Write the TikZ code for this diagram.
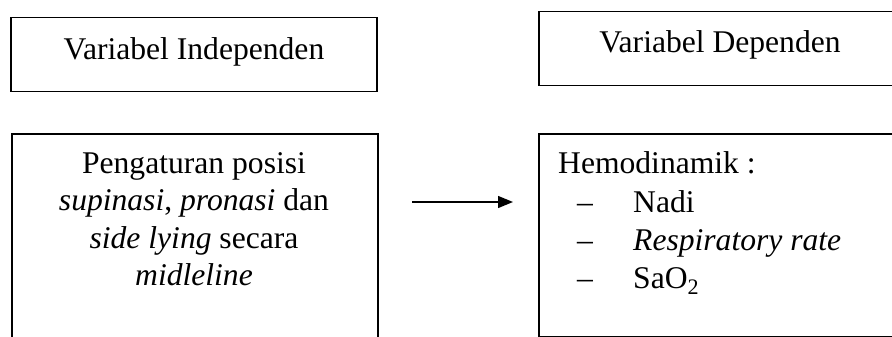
\documentclass[tikz,border=0pt]{standalone}
\usepackage{fontspec}
\setmainfont{Liberation Serif}
\usetikzlibrary{arrows.meta}
\tikzset{
  box/.style={draw, line width=1.5pt, inner sep=0pt},
  txt/.style={inner sep=0pt, font=\fontsize{31.6}{37.5}\selectfont},
  conn/.style={line width=1.3pt, -{Triangle[length=15pt,width=12pt]}}
}
\begin{document}
\begin{tikzpicture}[x=1pt,y=-1pt]
\useasboundingbox (0,0) rectangle (892,337);
\fill[white] (0,0) rectangle (892,337);
\clip (0,0) rectangle (892,337);
% boxes
\node[box, minimum width=366pt, minimum height=74pt, anchor=north west] (indep) at (10,17) {};
\node[box, minimum width=366pt, minimum height=220pt, anchor=north west] (posisi) at (11,133) {};
\node[box, minimum width=370pt, minimum height=74pt, anchor=north west] (dep) at (538,11) {};
\node[box, minimum width=370pt, minimum height=203pt, anchor=north west] (hemo) at (538,133) {};
% headings
\node[txt, anchor=base] (tindep) at (194,60) {Variabel Independen};
\node[txt, anchor=base] (tdep) at (720,53) {Variabel Dependen};
% left box text
\node[txt, anchor=base] (l1) at (194,173) {Pengaturan posisi};
\node[txt, anchor=base] (l2) at (194,210.5) {\textit{supinasi}, \textit{pronasi} dan};
\node[txt, anchor=base] (l3) at (194,248) {\textit{side lying} secara};
\node[txt, anchor=base] (l4) at (194,285.5) {\textit{midleline}};
% right box text
\node[txt, anchor=base west] (r0) at (558,173) {Hemodinamik :};
\node[txt, anchor=base west] (d1) at (577,212) {–};
\node[txt, anchor=base west] (d2) at (577,250) {–};
\node[txt, anchor=base west] (d3) at (577,288) {–};
\node[txt, anchor=base west] (r1) at (633,212) {Nadi};
\node[txt, anchor=base west] (r2) at (633,250) {\textit{Respiratory rate}};
\node[txt, anchor=base west] (r3) at (633,288) {SaO\textsubscript{2}};
% arrow
\coordinate (a1) at (412,202);
\coordinate (a2) at (513,202);
\draw[conn] (a1) -- (a2);
\end{tikzpicture}
\end{document}
